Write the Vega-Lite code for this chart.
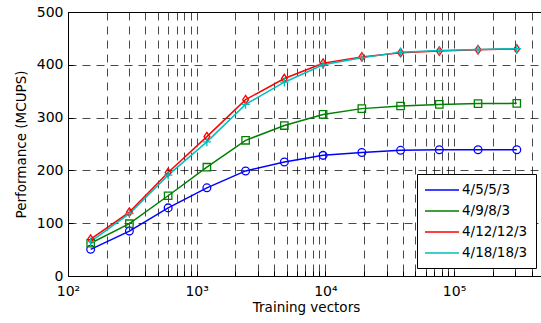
{
  "$schema": "https://vega.github.io/schema/vega-lite/v6.json",
  "width": 476,
  "height": 264,
  "autosize": "none",
  "padding": {"left": 68, "top": 12, "right": 0, "bottom": 47},
  "background": "white",
  "config": {
    "font": "DejaVu Sans",
    "view": {"stroke": "#000", "strokeWidth": 1},
    "axis": {
      "gridColor": "#000",
      "gridDash": [8, 6],
      "gridWidth": 0.8,
      "gridOpacity": 0.9,
      "domain": false,
      "labelFontSize": 14,
      "labelColor": "#000",
      "titleColor": "#000",
      "titleFontSize": 13.5,
      "titleFontWeight": "normal",
      "tickColor": "#000",
      "tickSize": -5,
      "tickWidth": 1
    }
  },
  "data": {
    "values": [
      {"vectors": 150, "cfg": "4/5/5/3", "perf": 50.5},
      {"vectors": 300, "cfg": "4/5/5/3", "perf": 85},
      {"vectors": 600, "cfg": "4/5/5/3", "perf": 129},
      {"vectors": 1200, "cfg": "4/5/5/3", "perf": 167},
      {"vectors": 2400, "cfg": "4/5/5/3", "perf": 199},
      {"vectors": 4800, "cfg": "4/5/5/3", "perf": 216},
      {"vectors": 9600, "cfg": "4/5/5/3", "perf": 228.5},
      {"vectors": 19200, "cfg": "4/5/5/3", "perf": 234},
      {"vectors": 38400, "cfg": "4/5/5/3", "perf": 238},
      {"vectors": 76800, "cfg": "4/5/5/3", "perf": 239},
      {"vectors": 153600, "cfg": "4/5/5/3", "perf": 239},
      {"vectors": 307200, "cfg": "4/5/5/3", "perf": 239},
      {"vectors": 150, "cfg": "4/9/8/3", "perf": 62},
      {"vectors": 300, "cfg": "4/9/8/3", "perf": 99},
      {"vectors": 600, "cfg": "4/9/8/3", "perf": 152},
      {"vectors": 1200, "cfg": "4/9/8/3", "perf": 206},
      {"vectors": 2400, "cfg": "4/9/8/3", "perf": 257},
      {"vectors": 4800, "cfg": "4/9/8/3", "perf": 285},
      {"vectors": 9600, "cfg": "4/9/8/3", "perf": 306},
      {"vectors": 19200, "cfg": "4/9/8/3", "perf": 317},
      {"vectors": 38400, "cfg": "4/9/8/3", "perf": 322},
      {"vectors": 76800, "cfg": "4/9/8/3", "perf": 325},
      {"vectors": 153600, "cfg": "4/9/8/3", "perf": 326.5},
      {"vectors": 307200, "cfg": "4/9/8/3", "perf": 327},
      {"vectors": 150, "cfg": "4/12/12/3", "perf": 70},
      {"vectors": 300, "cfg": "4/12/12/3", "perf": 121},
      {"vectors": 600, "cfg": "4/12/12/3", "perf": 196},
      {"vectors": 1200, "cfg": "4/12/12/3", "perf": 264},
      {"vectors": 2400, "cfg": "4/12/12/3", "perf": 334},
      {"vectors": 4800, "cfg": "4/12/12/3", "perf": 374},
      {"vectors": 9600, "cfg": "4/12/12/3", "perf": 403},
      {"vectors": 19200, "cfg": "4/12/12/3", "perf": 415},
      {"vectors": 38400, "cfg": "4/12/12/3", "perf": 423},
      {"vectors": 76800, "cfg": "4/12/12/3", "perf": 426},
      {"vectors": 153600, "cfg": "4/12/12/3", "perf": 428.5},
      {"vectors": 307200, "cfg": "4/12/12/3", "perf": 430},
      {"vectors": 150, "cfg": "4/18/18/3", "perf": 65},
      {"vectors": 300, "cfg": "4/18/18/3", "perf": 118},
      {"vectors": 600, "cfg": "4/18/18/3", "perf": 191},
      {"vectors": 1200, "cfg": "4/18/18/3", "perf": 254},
      {"vectors": 2400, "cfg": "4/18/18/3", "perf": 325},
      {"vectors": 4800, "cfg": "4/18/18/3", "perf": 367},
      {"vectors": 9600, "cfg": "4/18/18/3", "perf": 400},
      {"vectors": 19200, "cfg": "4/18/18/3", "perf": 413.5},
      {"vectors": 38400, "cfg": "4/18/18/3", "perf": 424},
      {"vectors": 76800, "cfg": "4/18/18/3", "perf": 427},
      {"vectors": 153600, "cfg": "4/18/18/3", "perf": 429},
      {"vectors": 307200, "cfg": "4/18/18/3", "perf": 430.5}
    ]
  },
  "encoding": {
    "x": {
      "field": "vectors",
      "type": "quantitative",
      "scale": {"type": "log", "domain": [100, 500000], "nice": false},
      "axis": {
        "title": "Training vectors",
        "values": [100, 200, 300, 400, 500, 600, 700, 800, 900, 1000, 2000, 3000, 4000, 5000, 6000, 7000, 8000, 9000, 10000, 20000, 30000, 40000, 50000, 60000, 70000, 80000, 90000, 100000, 200000, 300000, 400000, 500000],
        "labelExpr": "datum.value == 100 ? '10²' : datum.value == 1000 ? '10³' : datum.value == 10000 ? '10⁴' : datum.value == 100000 ? '10⁵' : ''",
        "labelPadding": 13,
        "titlePadding": 2,
        "labelOverlap": false,
        "labelFlush": false
      }
    },
    "y": {
      "field": "perf",
      "type": "quantitative",
      "scale": {"domain": [0, 500], "nice": false},
      "axis": {
        "title": "Performance (MCUPS)",
        "values": [0, 100, 200, 300, 400, 500],
        "labelPadding": 10,
        "titlePadding": 8
      }
    }
  },
  "layer": [
    {
      "mark": {"type": "line", "strokeWidth": 1.5, "clip": true},
      "encoding": {
        "color": {
          "field": "cfg",
          "type": "nominal",
          "scale": {
            "domain": ["4/5/5/3", "4/9/8/3", "4/12/12/3", "4/18/18/3"],
            "range": ["#0000ff", "#008000", "#ff0000", "#00bfbf"]
          },
          "legend": {
            "orient": "none",
            "legendX": 349,
            "legendY": 162,
            "title": null,
            "padding": 8,
            "strokeColor": "#000",
            "fillColor": "#fff",
            "labelFontSize": 13.5,
            "labelColor": "#000",
            "symbolType": "M-2.5,0H2.5",
            "symbolSize": 185,
            "symbolOffset": 9,
            "labelOffset": 12,
            "rowPadding": 6,
            "symbolStrokeWidth": 1.5
          }
        }
      }
    },
    {
      "transform": [{"filter": "datum.cfg === '4/5/5/3'"}],
      "mark": {"type": "point", "shape": "circle", "filled": false, "strokeWidth": 1.3, "size": 60, "opacity": 1, "clip": true},
      "encoding": {"color": {"field": "cfg", "type": "nominal", "legend": null}}
    },
    {
      "transform": [{"filter": "datum.cfg === '4/9/8/3'"}],
      "mark": {"type": "point", "shape": "square", "filled": false, "strokeWidth": 1.3, "size": 55, "opacity": 1, "clip": true},
      "encoding": {"color": {"field": "cfg", "type": "nominal", "legend": null}}
    },
    {
      "transform": [{"filter": "datum.cfg === '4/12/12/3'"}],
      "mark": {"type": "point", "shape": "M0,-1.1L0.75,0L0,1.1L-0.75,0Z", "filled": false, "strokeWidth": 1.3, "size": 60, "opacity": 1, "clip": true},
      "encoding": {"color": {"field": "cfg", "type": "nominal", "legend": null}}
    },
    {
      "transform": [{"filter": "datum.cfg === '4/18/18/3'"}],
      "mark": {"type": "point", "shape": "M-1.1,0H1.1M0,-1.1V1.1", "filled": false, "strokeWidth": 1.3, "size": 60, "opacity": 1, "clip": true},
      "encoding": {"color": {"field": "cfg", "type": "nominal", "legend": null}}
    }
  ]
}
